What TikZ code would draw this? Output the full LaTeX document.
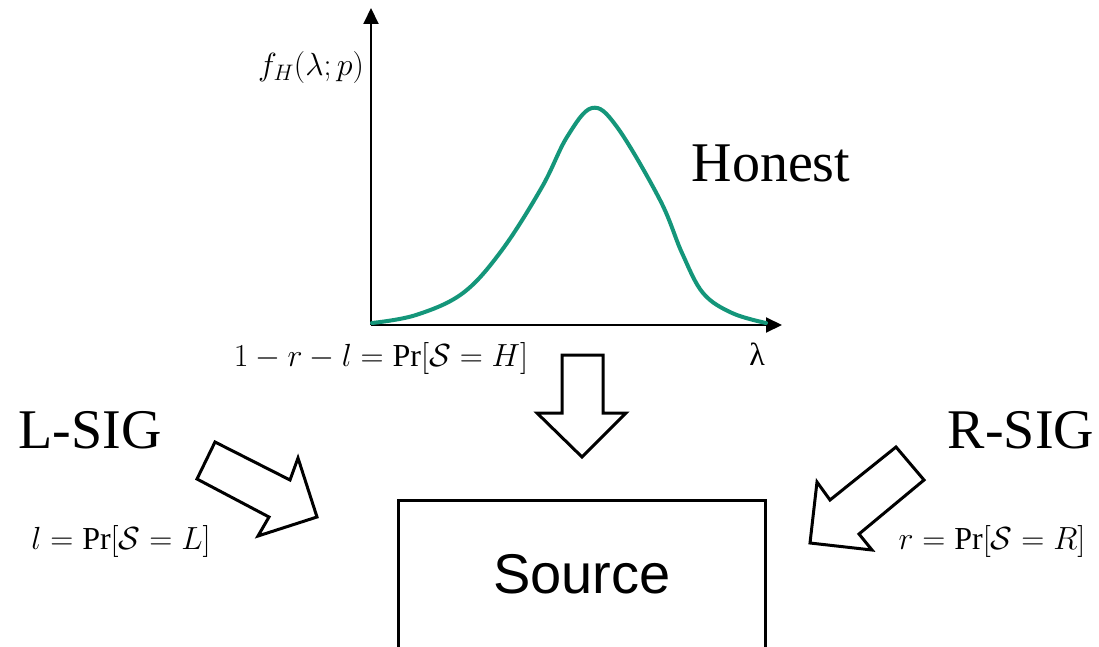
\RequirePackage{fix-cm}
\documentclass[tikz,border=0pt]{standalone}
\usepackage{amsmath,amssymb}
\usepackage{fontspec}
\setmainfont{Liberation Serif}
\newfontfamily\arialfont{Liberation Sans}
\usepackage{tikz}
\usetikzlibrary{arrows.meta}
\definecolor{curvegreen}{HTML}{14967A}

\tikzset{
  bigtext/.style={font=\fontsize{56}{60}\selectfont},
  smalltext/.style={font=\fontsize{32}{36}\selectfont},
  blockarrow/.style={draw,line width=3pt,line join=miter,fill=white},
}

\begin{document}
\begin{tikzpicture}[x=1pt,y=-1pt,>={Triangle[length=16pt,width=15pt]}]
\useasboundingbox (0,0) rectangle (1099,647);
% axes of the density plot
\coordinate (O) at (371,325);
\coordinate (ytop) at (371,8);
\coordinate (xend) at (782,325);
\draw[->,line width=2pt] (O)--(ytop);
\draw[->,line width=2pt] (O)--(xend);
\draw[curvegreen,line width=4pt,line cap=round] plot[smooth,tension=0.6] coordinates {(372,323) (416,315) (463,293) (502,250) (542,187) (567,137) (592,108) (617,127) (660,200) (682,253) (703,293) (732,313) (766,323)};
\node[smalltext] (fH) at (311,68) {$f_H(\lambda;p)$};
\node[smalltext] (lam) at (757,354) {λ};
\node[smalltext] (hlabel) at (381,358) {$1-r-l=\Pr[\mathcal{S}=H]$};
\node[bigtext] (honest) at (771,163) {Honest};
% side labels
\node[bigtext] (lsig) at (90,430) {L-SIG};
\node[smalltext] (llabel) at (121,541) {$l=\Pr[\mathcal{S}=L]$};
\node[bigtext] (rsig) at (1021,430) {R-SIG};
\node[smalltext] (rlabel) at (992,541) {$r=\Pr[\mathcal{S}=R]$};
% block arrows
\draw[blockarrow] (562,355)--(603,355)--(603,413)--(626,413)--(582,457)--(537,413)--(562,413)--cycle;
\draw[blockarrow] (215,442)--(290,480)--(298,458)--(317,517)--(258,536)--(269,517)--(197,479)--cycle;
\draw[blockarrow] (896,447)--(924,480)--(859,534)--(872,550)--(810,543)--(817,482)--(830,500)--cycle;
% source box, open at the bottom edge
\node[minimum width=366pt,minimum height=146pt,inner sep=0pt,font=\arialfont\fontsize{56}{60}\selectfont] (src) at (582,574) {Source};
\draw[line width=3pt,line join=miter] (src.south west)--(src.north west)--(src.north east)--(src.south east);
\end{tikzpicture}
\end{document}
